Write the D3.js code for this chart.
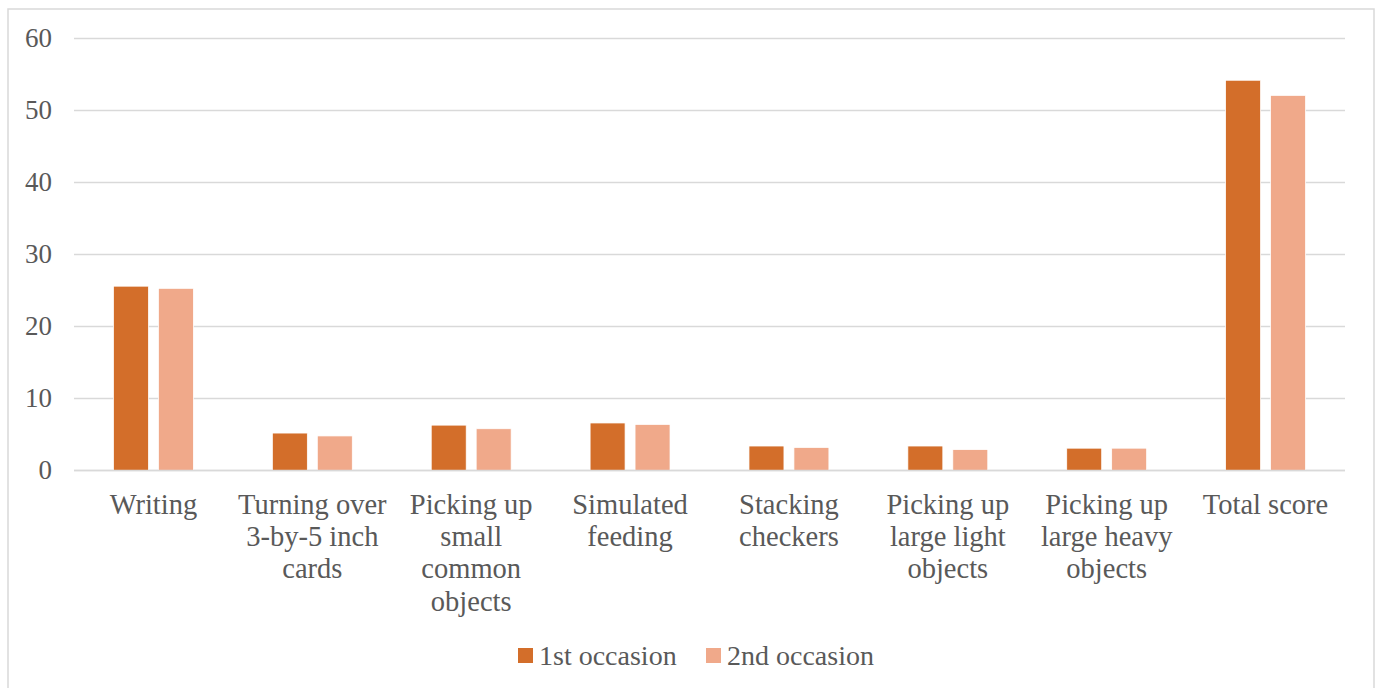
<!DOCTYPE html>
<html><head><meta charset="utf-8">
<script src="https://cdn.jsdelivr.net/npm/d3@7"></script>
</head>
<body style="margin:0"><svg id="c" width="1380" height="688"></svg>
<script>
const categories = ["Writing","Turning over\n3-by-5 inch\ncards","Picking up\nsmall\ncommon\nobjects","Simulated\nfeeding","Stacking\ncheckers","Picking up\nlarge light\nobjects","Picking up\nlarge heavy\nobjects","Total score"];
const seriesNames = ["1st occasion","2nd occasion"];
const firstOccasion = [25.6,5.2,6.3,6.6,3.4,3.4,3.1,54.2];
const secondOccasion = [25.3,4.8,5.8,6.4,3.2,2.9,3.1,52.1];
const yTicks = [0,10,20,30,40,50,60];
const colors = ["#D36E2A","#F0A98A"];
const FONT = "Liberation Serif";

const svg = d3.select("#c");
svg.append("rect").attr("x",8).attr("y",9).attr("width",1366).attr("height",684)
  .attr("fill","#fff").attr("stroke","#d9d9d9").attr("stroke-width",1.5);

const m = {left:74,right:1345,top:38.5,bottom:470.5};
const x0 = d3.scaleBand().domain(categories).range([m.left,m.right]).padding(0);
const bw = x0.bandwidth();
const gw = bw*0.503;
const x1 = d3.scaleBand().domain(seriesNames).range([(bw-gw)/2,(bw+gw)/2]).paddingInner(0.222).paddingOuter(0);
const y = d3.scaleLinear().domain([0,60]).range([m.bottom,m.top]);

// gridlines
const grid = svg.append("g");
grid.selectAll("line").data(yTicks).join("line")
  .attr("x1",m.left).attr("x2",m.right).attr("y1",d=>y(d)).attr("y2",d=>y(d))
  .attr("stroke","#d9d9d9").attr("stroke-width",1.5);
// y labels
svg.append("g").selectAll("text").data(yTicks).join("text")
  .attr("x",m.left-22).attr("y",d=>y(d)).attr("dy","0.33em")
  .attr("text-anchor","end").attr("font-family",FONT).attr("font-size",27).attr("fill","#595959")
  .text(d3.format("d"));

const data = categories.map((c,i)=>({cat:c,vals:[firstOccasion[i],secondOccasion[i]]}));
const groups = svg.append("g").selectAll("g").data(data).join("g")
  .attr("transform",d=>`translate(${x0(d.cat)},0)`);
groups.selectAll("rect").data(d=>d.vals.map((v,j)=>({s:seriesNames[j],v,j}))).join("rect")
  .attr("x",d=>x1(d.s)).attr("width",x1.bandwidth())
  .attr("y",d=>y(d.v)).attr("height",d=>y(0)-y(d.v))
  .attr("fill",d=>colors[d.j]).attr("stroke","#fff").attr("stroke-width",0.75);

// baseline
svg.append("line").attr("x1",m.left).attr("x2",m.right).attr("y1",y(0)).attr("y2",y(0))
  .attr("stroke","#d9d9d9").attr("stroke-width",1.5);

// category labels
categories.forEach(c=>{
  const t = svg.append("text").attr("text-anchor","middle").attr("font-family",FONT).attr("font-size",28.5)
    .attr("fill","#595959");
  c.split("\n").forEach((ln,i)=>{
    t.append("tspan").attr("x",x0(c)+bw/2).attr("y",m.bottom+43+i*32.4).text(ln);
  });
});

const legX = [518,706];
seriesNames.forEach((s,i)=>{
  svg.append("rect").attr("x",legX[i]).attr("y",648).attr("width",15).attr("height",15).attr("fill",colors[i]);
  svg.append("text").attr("x",legX[i]+21).attr("y",665).attr("font-size",28).attr("fill","#595959")
    .attr("font-family",FONT).text(s);
});
</script></body></html>
